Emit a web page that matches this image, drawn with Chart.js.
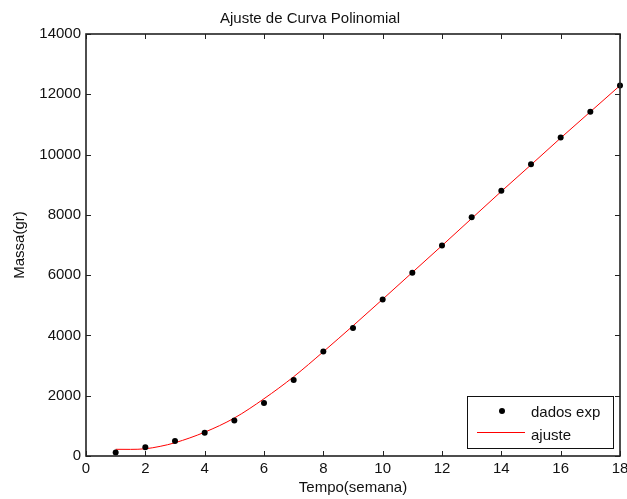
<!DOCTYPE html>
<html>
<head>
<meta charset="utf-8">
<script src="https://cdn.jsdelivr.net/npm/chart.js@4"></script>
<style>
  html, body { margin: 0; padding: 0; background: #fff; }
  #wrap { width: 627px; height: 499px; }
</style>
</head>
<body>
<div id="wrap"><canvas id="ajusteChart" width="627" height="499"></canvas></div>
<script>
// semanas medidas e massa observada (g)
const semanas = [1, 2, 3, 4, 5, 6, 7, 8, 9, 10, 11, 12, 13, 14, 15, 16, 17, 18];
const massaExp = [120, 290, 500, 770, 1180, 1760, 2520, 3470, 4250, 5190, 6080, 6980, 7920, 8800, 9680, 10570, 11420, 12290];

// curva ajustada (polinomio) lida ponto a ponto
const ajusteX = [1, 1.5, 2, 2.5, 3, 4, 5, 6, 7, 8, 9, 10, 11, 12, 13, 14, 15, 16, 17, 18];
const ajusteY = [222, 220, 240, 320, 440, 790, 1260, 1900, 2630, 3460, 4320, 5200, 6090, 6980, 7880, 8780, 9660, 10550, 11420, 12290];

const xTicks = [0, 2, 4, 6, 8, 10, 12, 14, 16, 18];
const yTicks = [0, 2000, 4000, 6000, 8000, 10000, 12000, 14000];

const FONT = "'Liberation Sans', Arial, Helvetica, sans-serif";
const INK = '#111';

// box around the axes with inward tick marks on all four sides, plus the legend
const matlabFrame = {
  id: 'matlabFrame',
  afterDraw(chart) {
    const { ctx, chartArea: a, scales: { x, y } } = chart;
    const tl = 5;
    ctx.save();
    ctx.strokeStyle = '#222';
    ctx.lineWidth = 1;
    ctx.beginPath();
    xTicks.forEach((v) => {
      const px = Math.round(x.getPixelForValue(v)) + 0.5;
      ctx.moveTo(px, a.bottom); ctx.lineTo(px, a.bottom - tl);
      ctx.moveTo(px, a.top); ctx.lineTo(px, a.top + tl);
    });
    yTicks.forEach((v) => {
      const py = Math.round(y.getPixelForValue(v)) + 0.5;
      ctx.moveTo(a.left, py); ctx.lineTo(a.left + tl, py);
      ctx.moveTo(a.right, py); ctx.lineTo(a.right - tl, py);
    });
    ctx.stroke();
    ctx.lineWidth = 1.6;
    ctx.strokeRect(a.left, a.top, a.right - a.left, a.bottom - a.top);

    // legend
    const lx = 467, ly = 396, lw = 146, lh = 52;
    ctx.fillStyle = '#fff';
    ctx.fillRect(lx, ly, lw, lh);
    ctx.lineWidth = 1;
    ctx.strokeStyle = '#111';
    ctx.strokeRect(lx + 0.5, ly + 0.5, lw, lh);
    const ds = chart.data.datasets;
    ctx.fillStyle = ds[0].backgroundColor;
    ctx.beginPath();
    ctx.arc(502, 411, 3, 0, Math.PI * 2);
    ctx.fill();
    ctx.strokeStyle = ds[1].borderColor;
    ctx.beginPath();
    ctx.moveTo(477, 432.5); ctx.lineTo(525, 432.5);
    ctx.stroke();
    ctx.fillStyle = INK;
    ctx.font = '15px ' + FONT;
    ctx.textBaseline = 'middle';
    ctx.textAlign = 'left';
    ctx.fillText(ds[0].label, 531, 413);
    ctx.fillText(ds[1].label, 531, 436);
    ctx.restore();
  }
};

new Chart(document.getElementById('ajusteChart').getContext('2d'), {
  type: 'scatter',
  data: {
    datasets: [
      {
        label: 'dados exp',
        data: semanas.map((s, i) => ({ x: s, y: massaExp[i] })),
        backgroundColor: '#000',
        borderColor: '#000',
        pointRadius: 3,
        pointBorderWidth: 0,
        clip: false,
        order: 1
      },
      {
        label: 'ajuste',
        data: ajusteX.map((s, i) => ({ x: s, y: ajusteY[i] })),
        showLine: true,
        borderColor: '#ff0000',
        backgroundColor: '#ff0000',
        borderWidth: 1,
        pointRadius: 0,
        cubicInterpolationMode: 'monotone',
        clip: false,
        order: 2
      }
    ]
  },
  options: {
    responsive: false,
    animation: false,
    devicePixelRatio: 1,
    layout: { padding: { left: 0, right: 7, top: 0, bottom: 0 } },
    plugins: {
      legend: { display: false },
      tooltip: { enabled: false },
      title: {
        display: true,
        text: 'Ajuste de Curva Polinomial',
        color: INK,
        font: { family: FONT, size: 15, weight: 'normal' },
        padding: { top: 10, bottom: 6 }
      }
    },
    scales: {
      x: {
        type: 'linear',
        min: 0,
        max: 18,
        afterBuildTicks: (scale) => { scale.ticks = xTicks.map((v) => ({ value: v })); },
        afterFit: (scale) => {
          scale.height = 43;
          scale.paddingLeft = 0;
          scale.paddingRight = 0;
        },
        grid: { display: false, drawTicks: false },
        border: { display: false },
        ticks: { color: INK, padding: 4, maxRotation: 0, font: { family: FONT, size: 15 } },
        title: {
          display: true,
          text: 'Tempo(semana)',
          color: INK,
          font: { family: FONT, size: 15 },
          padding: { top: 0, bottom: 2 }
        }
      },
      y: {
        type: 'linear',
        min: 0,
        max: 14000,
        afterBuildTicks: (scale) => { scale.ticks = yTicks.map((v) => ({ value: v })); },
        afterFit: (scale) => { scale.width = 86; },
        grid: { display: false, drawTicks: false },
        border: { display: false },
        ticks: { color: INK, padding: 5, font: { family: FONT, size: 15 }, callback: (v) => String(v) },
        title: {
          display: true,
          text: 'Massa(gr)',
          color: INK,
          font: { family: FONT, size: 15 },
          padding: { top: 11, bottom: 0 }
        }
      }
    }
  },
  plugins: [matlabFrame]
});
</script>
</body>
</html>
